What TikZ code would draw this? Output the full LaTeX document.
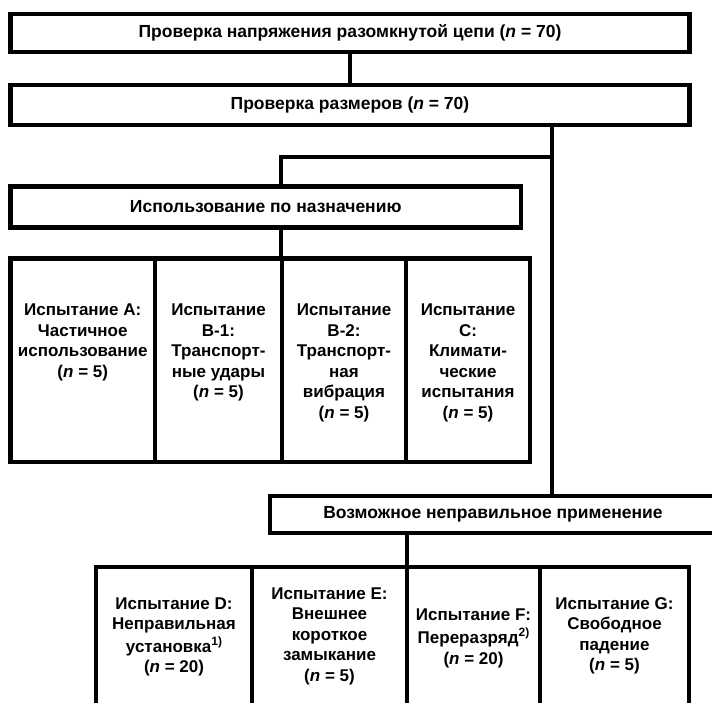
\documentclass[tikz,border=0pt]{standalone}
\usepackage{fontspec}
\setmainfont{Liberation Sans}
\begin{document}
\begin{tikzpicture}[x=1pt,y=-1pt,
  box/.style={draw=black, line width=4.2pt, rectangle, inner sep=0pt, outer sep=0pt,
              font=\fontsize{17.5}{20.5}\selectfont\bfseries, align=center},
  txt/.style={font=\fontsize{17}{20.5}\selectfont\bfseries, align=center, inner sep=0pt},
  link/.style={draw=black, line width=4.2pt}]
\useasboundingbox (0,0) rectangle (712,703);
\clip (0,0) rectangle (712,703);
\fill[white] (0,0) rectangle (712,703);

% top boxes
\node[box, minimum width=679pt, minimum height=38pt] (check) at (350,33)
  {Проверка напряжения разомкнутой цепи (\textit{n} = 70)};
\node[box, minimum width=679pt, minimum height=40pt] (dims) at (350,105)
  {Проверка размеров (\textit{n} = 70)};
\node[box, minimum width=510.5pt, minimum height=41pt] (use) at (265.75,207)
  {Использование по назначению};
\node[box, minimum width=446pt, minimum height=37pt] (misuse) at (493,514.5)
  {Возможное неправильное применение};

% row 1 cells
\node[box, minimum width=144.5pt, minimum height=203.5pt] (cA)  at (82.75,360.25) {};
\node[box, minimum width=127pt,   minimum height=203.5pt] (cB1) at (218.5,360.25) {};
\node[box, minimum width=124pt,   minimum height=203.5pt] (cB2) at (344,360.25) {};
\node[box, minimum width=124pt,   minimum height=203.5pt] (cC)  at (468,360.25) {};

\node[txt, anchor=north] (tA)  at (82.75,304) {Испытание A:\\Частичное\\использование\\(\textit{n} = 5)};
\node[txt, anchor=north] (tB1) at (218.5,304) {Испытание\\B-1:\\Транспорт-\\ные удары\\(\textit{n} = 5)};
\node[txt, anchor=north] (tB2) at (344,304)   {Испытание\\B-2:\\Транспорт-\\ная\\вибрация\\(\textit{n} = 5)};
\node[txt, anchor=north] (tC)  at (468,304)   {Испытание\\C:\\Климати-\\ческие\\испытания\\(\textit{n} = 5)};

% row 2 cells (run past the lower edge)
\node[box, minimum width=156pt, minimum height=200pt] (cD) at (174,667) {};
\node[box, minimum width=155pt, minimum height=200pt] (cE) at (329.5,667) {};
\node[box, minimum width=133pt, minimum height=200pt] (cF) at (473.5,667) {};
\node[box, minimum width=149pt, minimum height=200pt] (cG) at (614.5,667) {};

\node[txt] (tD) at (174,637)   {Испытание D:\\Неправильная\\[2pt]установка\raisebox{0.42em}{\fontsize{12}{12}\selectfont 1)}\\(\textit{n} = 20)};
\node[txt] (tE) at (329.5,636) {Испытание E:\\Внешнее\\короткое\\замыкание\\(\textit{n} = 5)};
\node[txt] (tF) at (473.5,638) {Испытание F:\\[3pt]Переразряд\raisebox{0.42em}{\fontsize{12}{12}\selectfont 2)}\\(\textit{n} = 20)};
\node[txt] (tG) at (614.5,636) {Испытание G:\\Свободное\\падение\\(\textit{n} = 5)};

% connectors
\coordinate (j1) at (552,157);
\coordinate (j2) at (281,157);
\draw[link] (check.south) -- (dims.north);
\draw[link] (dims.south -| j1) -- (misuse.north -| j1);
\draw[link] ([xshift=2.1pt]j1) -- (j2) -- (use.north -| j2);
\draw[link] (use.south -| j2) -- (cB2.north -| j2);
\draw[link] (misuse.south -| cE.east) -- (cE.north east);
\end{tikzpicture}
\end{document}
